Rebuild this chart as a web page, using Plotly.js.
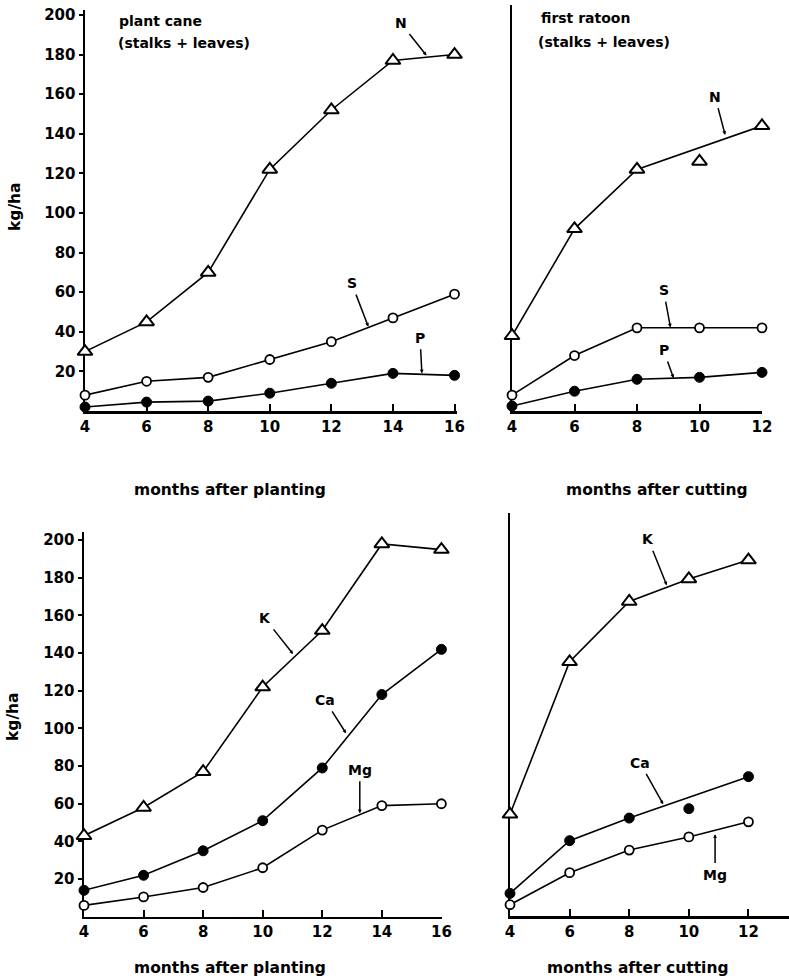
<!DOCTYPE html>
<html>
<head>
<meta charset="utf-8">
<script src="https://cdn.plot.ly/plotly-3.0.1.min.js"></script>
<style>html,body{margin:0;padding:0;background:#fff}#chart{width:789px;height:980px}</style>
</head>
<body>
<div id="chart"></div>
<script>
// ---------------- DATA ----------------
const plantMonths  = [4, 6, 8, 10, 12, 14, 16];
const ratoonMonths = [4, 6, 8, 10, 12];
const yTickVals    = [20, 40, 60, 80, 100, 120, 140, 160, 180, 200];

// plant cane (stalks + leaves), kg/ha
const plantN  = [30, 45, 70, 122, 152, 177, 180];
const plantS  = [8, 15, 17, 26, 35, 47, 59];
const plantP  = [2, 4.5, 5, 9, 14, 19, 18];
const plantK  = [43, 58, 77, 122, 152, 198, 195];
const plantCa = [14, 22, 35, 51, 79, 118, 142];
const plantMg = [6, 10.5, 15.5, 26, 46, 59, 60];

// first ratoon (stalks + leaves), kg/ha
const ratoonN  = [38, 92, 122, 126, 144];
const ratoonS  = [8, 28, 42, 42, 42];
const ratoonP  = [2.5, 10, 16, 17, 19.5];
const ratoonK  = [54, 135, 167, 179, 189];
const ratoonCa = [12, 40, 52, 57, 74];
const ratoonMg = [6, 23, 35, 42, 50];

// months whose point lies off the drawn curve
const ratoonNOffCurve  = [10];
const ratoonCaOffCurve = [10];

// ---------------- HELPERS ----------------
const FONT = 'DejaVu Sans';
const W = 789, H = 980;
const px = v => v / W;
const py = v => 1 - v / H;

const styles = {
  tri:    {symbol: 'triangle-up', size: 13, color: '#fff', line: {color: '#000', width: 2}},
  open:   {symbol: 'circle', size: 9, color: '#fff', line: {color: '#000', width: 1.8}},
  filled: {symbol: 'circle', size: 10, color: '#000', line: {color: '#000', width: 1}}
};

const traces = [];
function series(xs, ys, mk, xa, ya, off) {
  off = off || [];
  const lx = [], ly = [];
  xs.forEach((x, i) => { if (off.indexOf(x) < 0) { lx.push(x); ly.push(ys[i]); } });
  traces.push({x: lx, y: ly, xaxis: xa, yaxis: ya, mode: 'lines', type: 'scatter', cliponaxis: false,
               line: {color: '#000', width: 1.6}, hoverinfo: 'skip', showlegend: false});
  traces.push({x: xs, y: ys, xaxis: xa, yaxis: ya, mode: 'markers', type: 'scatter', cliponaxis: false,
               marker: styles[mk], showlegend: false});
}

series(plantMonths, plantP, 'filled', 'x', 'y');
series(plantMonths, plantS, 'open', 'x', 'y');
series(plantMonths, plantN, 'tri', 'x', 'y');

series(ratoonMonths, ratoonP, 'filled', 'x2', 'y2');
series(ratoonMonths, ratoonS, 'open', 'x2', 'y2');
series(ratoonMonths, ratoonN, 'tri', 'x2', 'y2', ratoonNOffCurve);

series(plantMonths, plantMg, 'open', 'x3', 'y3');
series(plantMonths, plantCa, 'filled', 'x3', 'y3');
series(plantMonths, plantK, 'tri', 'x3', 'y3');

series(ratoonMonths, ratoonMg, 'open', 'x4', 'y4');
series(ratoonMonths, ratoonCa, 'filled', 'x4', 'y4', ratoonCaOffCurve);
series(ratoonMonths, ratoonK, 'tri', 'x4', 'y4');

const tickFont = {family: FONT, size: 15, color: '#000', weight: 'bold'};
function xAxis(domain, range, anchor, vals) {
  return {domain: domain, range: range, anchor: anchor, showgrid: false, zeroline: false,
          showline: true, linecolor: '#000', linewidth: 2.5, layer: 'below traces',
          tickmode: 'array', tickvals: vals, ticks: 'inside', ticklen: 7, tickwidth: 2,
          tickcolor: '#000', tickfont: tickFont, fixedrange: true};
}
function yAxis(domain, range, anchor, labels) {
  return {domain: domain, range: range, anchor: anchor, showgrid: false, zeroline: false,
          showline: true, linecolor: '#000', linewidth: 2.5, layer: 'below traces',
          tickmode: 'array', tickvals: labels ? yTickVals : [],
          showticklabels: labels, ticks: labels ? 'outside' : '', ticklen: 4, tickwidth: 2,
          tickcolor: '#000', tickfont: tickFont, fixedrange: true};
}

const plantTicks = plantMonths, ratoonTicks = ratoonMonths;

const layout = {
  width: W, height: H,
  margin: {l: 0, r: 0, t: 0, b: 0},
  paper_bgcolor: '#fff', plot_bgcolor: 'rgba(0,0,0,0)',
  showlegend: false,
  xaxis:  xAxis([px(85), px(457)], [4, 16.08], 'y', plantTicks),
  yaxis:  yAxis([py(411), py(10)], [0, 202.5], 'x', true),
  xaxis2: xAxis([px(512), px(762)], [4, 12], 'y2', ratoonTicks),
  yaxis2: yAxis([py(411), py(5)], [0, 205], 'x2', false),
  xaxis3: xAxis([px(84), px(442)], [4, 16.02], 'y3', plantTicks),
  yaxis3: yAxis([py(916.7), py(531.7)], [0, 204.5], 'x3', true),
  xaxis4: xAxis([px(510), 1], [4, 13.36], 'y4', ratoonTicks),
  yaxis4: yAxis([py(916), py(513)], [0, 214], 'x4', false),
  annotations: []
};

const labFont = {family: FONT, size: 14, color: '#000', weight: 'bold'};
function lbl(text, xr, yr, tipX, tipY, txtX, txtY) {
  layout.annotations.push({text: text, xref: xr, yref: yr, x: tipX, y: tipY,
    axref: xr, ayref: yr, ax: txtX, ay: txtY, showarrow: true,
    arrowhead: 2, arrowsize: 0.5, arrowwidth: 1.5, arrowcolor: '#000',
    standoff: 0, startstandoff: 2, font: labFont});
}
lbl('N', 'x', 'y', 15.09, 179.5, 14.25, 196);
lbl('S', 'x', 'y', 13.2, 42.6, 12.66, 64.5);
lbl('P', 'x', 'y', 14.94, 19.0, 14.88, 37);
lbl('N', 'x2', 'y2', 10.82, 139.4, 10.5, 158.7);
lbl('S', 'x2', 'y2', 9.07, 42.2, 8.85, 61);
lbl('P', 'x2', 'y2', 9.17, 16.6, 8.85, 30.8);
lbl('K', 'x3', 'y3', 11.02, 139.5, 10.07, 158.5);
lbl('Ca', 'x3', 'y3', 12.8, 97.4, 12.09, 115);
lbl('Mg', 'x3', 'y3', 13.26, 55, 13.26, 78);
lbl('K', 'x4', 'y4', 9.26, 175.6, 8.64, 200);
lbl('Ca', 'x4', 'y4', 9.14, 59.3, 8.36, 81.5);
lbl('Mg', 'x4', 'y4', 10.88, 43.4, 10.88, 22);

function txt(text, xp, yp, opts) {
  layout.annotations.push(Object.assign({text: text, xref: 'paper', yref: 'paper',
    x: px(xp), y: py(yp), showarrow: false, font: labFont,
    xanchor: 'center', yanchor: 'middle'}, opts || {}));
}
txt('plant cane', 117, 21, {xanchor: 'left'});
txt('(stalks + leaves)', 116, 43, {xanchor: 'left'});
txt('first ratoon', 539, 18, {xanchor: 'left'});
txt('(stalks + leaves)', 536, 42, {xanchor: 'left'});
const titleFont = {family: FONT, size: 15.5, color: '#000', weight: 'bold'};
txt('months after planting', 230, 490, {font: titleFont});
txt('months after cutting', 657, 490, {font: titleFont});
txt('months after planting', 230, 968, {font: titleFont});
txt('months after cutting', 638, 968, {font: titleFont});
txt('kg/ha', 15, 207, {font: titleFont, textangle: -90});
txt('kg/ha', 13, 717, {font: titleFont, textangle: -90});

Plotly.newPlot('chart', traces, layout, {staticPlot: true});
</script>
</body>
</html>
